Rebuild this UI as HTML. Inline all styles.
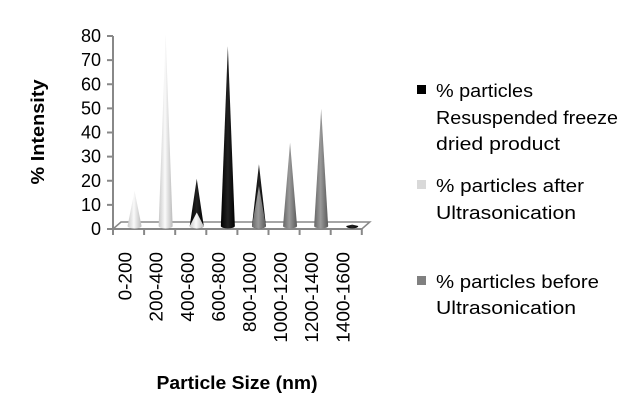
<!DOCTYPE html>
<html><head><meta charset="utf-8"><style>
body{margin:0;background:#fff;}
svg{display:block;font-family:"Liberation Sans",sans-serif;}
</style></head><body>
<svg id="chart" width="629" height="402" viewBox="0 0 629 402">
<defs>
<linearGradient id="gBlack" x1="0" x2="1"><stop offset="0" stop-color="#000"/><stop offset="0.5" stop-color="#222"/><stop offset="1" stop-color="#000"/></linearGradient>
<linearGradient id="gLight" x1="0" x2="1"><stop offset="0" stop-color="#c8c8c8"/><stop offset="0.45" stop-color="#fafafa"/><stop offset="1" stop-color="#bbb"/></linearGradient>
<linearGradient id="gGray" x1="0" x2="1"><stop offset="0" stop-color="#666"/><stop offset="0.45" stop-color="#9a9a9a"/><stop offset="1" stop-color="#5a5a5a"/></linearGradient>
</defs>
<g id="axes"></g>
<g id="cones"></g>
<text transform="translate(44,132) rotate(-90)" text-anchor="middle" font-size="18" font-weight="bold" textLength="105" lengthAdjust="spacingAndGlyphs">% Intensity</text>
<text x="237" y="389" text-anchor="middle" font-size="18" font-weight="bold" textLength="161" lengthAdjust="spacingAndGlyphs">Particle Size (nm)</text>
<g font-size="18">
<g><rect x="417" y="85" width="9" height="9" fill="#000"/>
<text x="436" y="97" textLength="97" lengthAdjust="spacingAndGlyphs">% particles</text><text x="436" y="124" textLength="182" lengthAdjust="spacingAndGlyphs">Resuspended freeze</text><text x="436" y="150" textLength="124" lengthAdjust="spacingAndGlyphs">dried product</text></g>
<g><rect x="417" y="180" width="9" height="9" fill="#d9d9d9"/>
<text x="436" y="192" textLength="148" lengthAdjust="spacingAndGlyphs">% particles after</text><text x="436" y="219" textLength="140" lengthAdjust="spacingAndGlyphs">Ultrasonication</text></g>
<g><rect x="417" y="276" width="9" height="9" fill="#808080"/>
<text x="436" y="288" textLength="163" lengthAdjust="spacingAndGlyphs">% particles before</text><text x="436" y="314" textLength="140" lengthAdjust="spacingAndGlyphs">Ultrasonication</text></g>
</g>
</svg>
<script>
const categories=["0-200","200-400","400-600","600-800","800-1000","1000-1200","1200-1400","1400-1600"];
const resuspended=[0,0,20,75,26,0,0,1];
const after=[15,80,6,0,0,0,0,0];
const before=[0,0,0,0,17,35,49,0];
const yTicks=[0,10,20,30,40,50,60,70,80];
const NS="http://www.w3.org/2000/svg";
const x0=113,step=31.1,yBase=229,yTop=36,yMax=80;
const ys=v=>yBase-(v/yMax)*(yBase-yTop);
const xc=i=>x0+step*(i+0.5)+6;
function mk(t,a,p){const e=document.createElementNS(NS,t);for(const k in a)e.setAttribute(k,a[k]);p.appendChild(e);return e;}
const ax=document.getElementById('axes');
const fl=mk('polygon',{points:`${x0},${yBase} ${x0+8},${yBase-7} ${x0+8+step*8},${yBase-7} ${x0+step*8},${yBase}`,fill:'#fff',stroke:'#888','stroke-width':1.5},ax);


const ya=mk('line',{x1:x0,y1:yTop,x2:x0,y2:yBase,stroke:'#888','stroke-width':2},ax);


yTicks.forEach(v=>{
 const y=ys(v);
 mk('line',{x1:x0-6,y1:y,x2:x0,y2:y,stroke:'#888','stroke-width':2},ax);
 const t=mk('text',{x:x0-12,y:y+6,'text-anchor':'end','font-size':18},ax);
 t.textContent=v;
 
 
});
const xa=mk('line',{x1:x0-6,y1:yBase,x2:x0+step*8,y2:yBase,stroke:'#888','stroke-width':2},ax);


for(let i=0;i<=8;i++)mk('line',{x1:x0+step*i,y1:yBase,x2:x0+step*i,y2:yBase+6,stroke:'#888','stroke-width':2},ax);
categories.forEach((c,i)=>{
 const x=x0+step*(i+0.5)+3;
 const len=(c.length-1)*10.6+6;
 const t=mk('text',{transform:`translate(${x},252) rotate(-90)`,'text-anchor':'end','font-size':18,textLength:len,lengthAdjust:'spacingAndGlyphs'},ax);
 t.textContent=c;
 
 
});
const cg=document.getElementById('cones');
function cone(i,v,fill,name){
 if(v<=0)return;
 const cx=xc(i),base=yBase-3,w=v<3?6:7,tip=ys(v)-2;
 const g=mk('g',{},cg);
 
 
 mk('path',{d:`M${cx-w},${base} L${cx},${tip} L${cx+w},${base} A${w} 2.5 0 0 1 ${cx-w},${base} Z`,fill:fill},g);
}
categories.forEach((c,i)=>{
 const s=[[resuspended[i],'url(#gBlack)','cone-resuspended'],[after[i],'url(#gLight)','cone-after'],[before[i],'url(#gGray)','cone-before']].filter(d=>d[0]>0).sort((a,b)=>b[0]-a[0]);
 s.forEach(d=>cone(i,d[0],d[1],d[2]+'-'+c));
});
</script>
</body></html>
